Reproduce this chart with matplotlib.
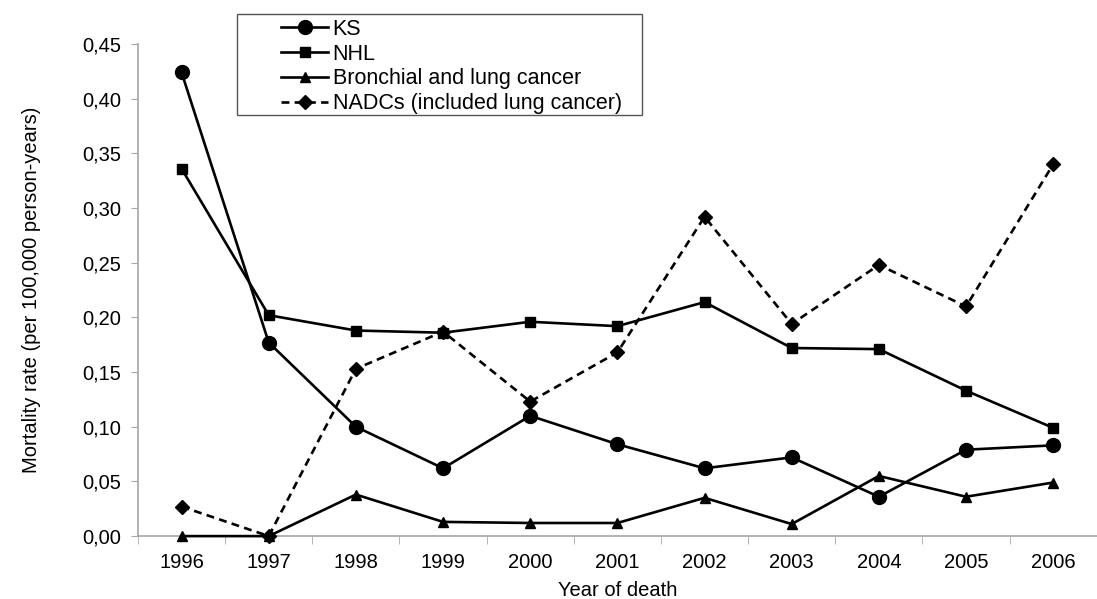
import numpy as np
import matplotlib
matplotlib.use("Agg")
import matplotlib.pyplot as plt
from matplotlib.patches import Rectangle

plt.rcParams['font.family'] = ['Liberation Sans', 'DejaVu Sans']

years = ['1996', '1997', '1998', '1999', '2000', '2001', '2002', '2003', '2004', '2005', '2006']
ks = [0.424, 0.177, 0.100, 0.062, 0.110, 0.084, 0.062, 0.072, 0.036, 0.079, 0.083]
nhl = [0.336, 0.202, 0.188, 0.186, 0.196, 0.192, 0.214, 0.172, 0.171, 0.133, 0.099]
lung = [0.000, 0.000, 0.038, 0.013, 0.012, 0.012, 0.035, 0.011, 0.055, 0.036, 0.049]
nadcs = [0.027, 0.000, 0.153, 0.187, 0.123, 0.168, 0.292, 0.194, 0.248, 0.210, 0.340]
y_ticks = [0.00, 0.05, 0.10, 0.15, 0.20, 0.25, 0.30, 0.35, 0.40, 0.45]
y_tick_labels = ['0,00', '0,05', '0,10', '0,15', '0,20', '0,25', '0,30', '0,35', '0,40', '0,45']

fig = plt.figure(figsize=(10.97, 5.99), dpi=100)
ax = fig.add_axes([0.1258, 0.105, 0.874, 0.8215])

x = np.arange(len(years))
lw = 1.9
ax.plot(x, ks, color='black', lw=lw, marker='o', ms=10, label='KS', clip_on=False, zorder=3)
ax.plot(x, nhl, color='black', lw=lw, marker='s', ms=6.5, label='NHL', clip_on=False, zorder=3)
ax.plot(x, lung, color='black', lw=lw, marker='^', ms=7, label='Bronchial and lung cancer', clip_on=False, zorder=3)
ax.plot(x, nadcs, color='black', lw=lw, ls=(0, (3, 2)), marker='D', ms=7, label='NADCs (included lung cancer)', clip_on=False, zorder=3)

ax.set_xlim(-0.5, len(years) - 0.5)
ax.set_ylim(0, 0.45)
ax.set_yticks(y_ticks)
ax.set_yticklabels(y_tick_labels, fontsize=14.5)
ax.set_xticks(x)
ax.set_xticklabels(years, fontsize=14.5)
ax.set_xticks(np.arange(len(years) + 1) - 0.5, minor=True)
ax.tick_params(axis='x', which='major', length=0, pad=12)
ax.tick_params(axis='x', which='minor', length=6, color='#a6a6a6', direction='out')
ax.tick_params(axis='y', length=5, color='#a6a6a6', direction='out', pad=7)

for side in ['top', 'right']:
    ax.spines[side].set_visible(False)
for side in ['left', 'bottom']:
    ax.spines[side].set_color('#a6a6a6')
    ax.spines[side].set_linewidth(1.2)

ax.set_xlabel('Year of death', fontsize=14.5, labelpad=7)
ax.set_ylabel('Mortality rate (per 100,000 person-years)', fontsize=14.5, labelpad=30)

# legend box
ax.add_patch(Rectangle((0.103, 0.856), 0.423, 0.205, transform=ax.transAxes,
                       fill=False, edgecolor='#555555', lw=1.0, clip_on=False, zorder=4))
leg = ax.legend(loc='upper left', bbox_to_anchor=(0.140, 1.069), frameon=False,
                fontsize=15.5, handlelength=2.2, handletextpad=0.2, labelspacing=0.18,
                borderaxespad=0)

fig.savefig('out.png', dpi=100)
